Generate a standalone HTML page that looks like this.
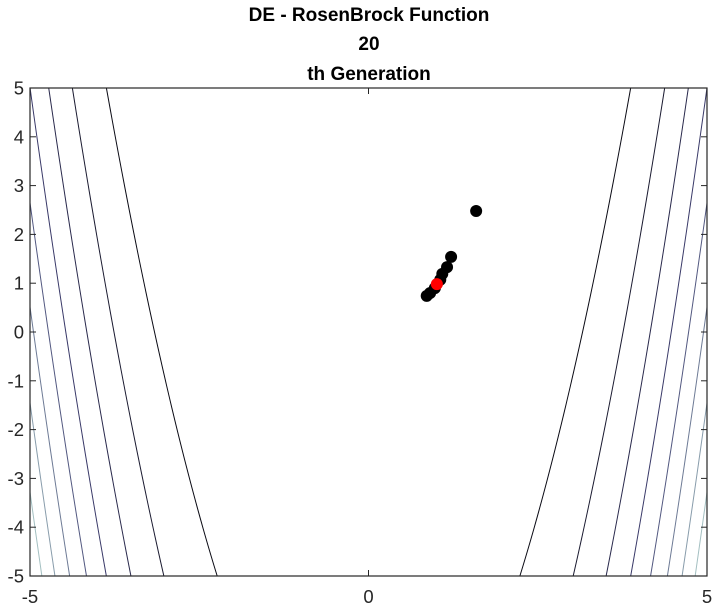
<!DOCTYPE html>
<html><head><meta charset="utf-8"><style>
body{margin:0;background:#fff;}
svg{display:block;font-family:"Liberation Sans",Arial,sans-serif;}
</style></head><body>
<svg id="chart" width="716" height="610">
<g font-weight="bold" font-size="19" text-anchor="middle" fill="#000">
<text x="369" y="21">DE - RosenBrock Function</text>
<text x="369" y="50">20</text>
<text x="369" y="80">th Generation</text>
</g>
<g id="contours"></g>
<g id="points"></g>
<rect x="30" y="88" width="677" height="488" fill="none" stroke="#262626" stroke-width="1.2"/>
<g id="ticks"></g>
</svg>
<script>
const contourLevels=[10000,20000,30000,40000,50000,60000,70000,80000,90000];
const popX=[1.59,1.22,1.16,1.09,1.06,0.98,0.91,0.86];
const popY=[2.48,1.54,1.33,1.19,1.07,0.90,0.80,0.74];
const bestX=[1.01];
const bestY=[0.98];
const xTicks=[-5,0,5];
const yTicks=[-5,-4,-3,-2,-1,0,1,2,3,4,5];
const L=30,R=707,T=88,B=576;
const sx=x=>L+(x+5)/10*(R-L);
const sy=y=>B-(y+5)/10*(B-T);
const NS="http://www.w3.org/2000/svg";
function mk(t,a,p){const e=document.createElementNS(NS,t);for(const k in a)e.setAttribute(k,a[k]);p.appendChild(e);return e;}
const f=(x,y)=>(1-x)*(1-x)+100*(y-x*x)*(y-x*x);
function solve(lv,y,sign){let b=sign*8;
 let a=sign*Math.sqrt(Math.max(y,0));
 if(f(a,y)>lv) return null;
 for(let i=0;i<60;i++){const m=(a+b)/2;if(f(m,y)<lv)a=m;else b=m;}
 return (a+b)/2;}
function col(i,n){const t=i/(n-1);const c0=[10,10,20],c1=[60,60,110],c2=[190,225,215];let c;
 if(t<0.4){const u=t/0.4;c=c0.map((v,k)=>v+(c1[k]-v)*u);}else{const u=(t-0.4)/0.6;c=c1.map((v,k)=>v+(c2[k]-v)*u);}
 return `rgb(${c.map(Math.round).join(',')})`;}
const cg=document.getElementById('contours');
const defs=mk('defs',{},cg);const cp=mk('clipPath',{id:'clip'},defs);mk('rect',{x:L,y:T,width:R-L,height:B-T},cp);
contourLevels.forEach((lv,i)=>{[-1,1].forEach(sg=>{let pts=[];
 for(let k=0;k<=100;k++){const y=-5+k*0.1;const x=solve(lv,y,sg);if(x!==null)pts.push(sx(x).toFixed(2)+','+sy(y).toFixed(2));}
 const pl=mk('polyline',{points:pts.join(' '),fill:'none',stroke:col(i,contourLevels.length),'stroke-width':1,'clip-path':'url(#clip)'},cg);
 
 
});});
const pg=document.getElementById('points');
popX.forEach((x,i)=>{const c=mk('circle',{cx:sx(x),cy:sy(popY[i]),r:6,fill:'#000'},pg);
 
 });
bestX.forEach((x,i)=>{const c=mk('circle',{cx:sx(x),cy:sy(bestY[i]),r:6,fill:'#ff0000'},pg);
 
 });
const tg=document.getElementById('ticks');
xTicks.forEach(v=>{const x=sx(v);
 mk('line',{x1:x,y1:B,x2:x,y2:B-6,stroke:'#262626'},tg);mk('line',{x1:x,y1:T,x2:x,y2:T+6,stroke:'#262626'},tg);
 const t=mk('text',{x:x,y:B+27,'font-size':18.5,'text-anchor':'middle',fill:'#262626'},tg);t.textContent=v;
 
 });
yTicks.forEach(v=>{const y=sy(v);
 mk('line',{x1:L,y1:y,x2:L+6,y2:y,stroke:'#262626'},tg);mk('line',{x1:R,y1:y,x2:R-6,y2:y,stroke:'#262626'},tg);
 const t=mk('text',{x:L-6,y:y+6.5,'font-size':18.5,'text-anchor':'end',fill:'#262626'},tg);t.textContent=v;
 
 });
</script>
</body></html>
